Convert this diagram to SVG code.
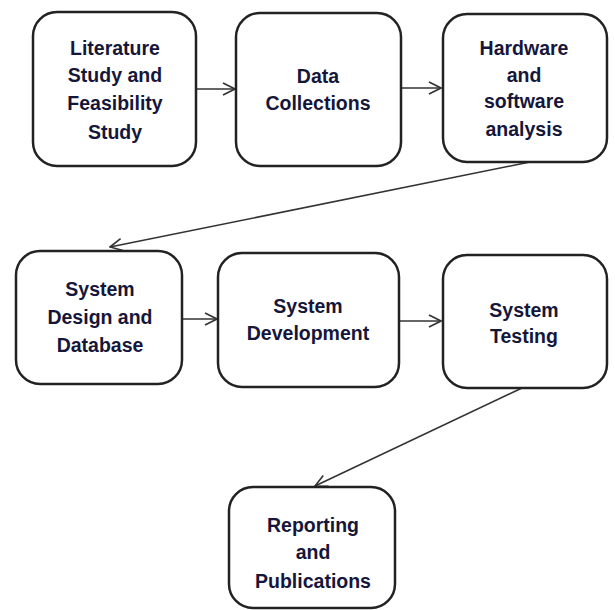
<svg xmlns="http://www.w3.org/2000/svg" width="615" height="610" viewBox="0 0 615 610">
<style>
.box{fill:#fff;stroke:#222;stroke-width:2.5}
.lbl{font-family:"Liberation Sans",Arial,sans-serif;font-weight:bold;font-size:19.5px;fill:#16163a;text-anchor:middle}
.conn{fill:none;stroke:#333;stroke-width:1.6}
</style>
<defs>
<marker id="arr" viewBox="0 0 14 14" refX="13" refY="7" markerWidth="14" markerHeight="14" markerUnits="userSpaceOnUse" orient="auto">
<path d="M1,1 L13,7 L1,13" fill="none" stroke="#333" stroke-width="1.6"/>
</marker>
</defs>
<rect width="615" height="610" fill="#fff"/>
<g id="connectors">
<line class="conn" x1="196" y1="89" x2="235" y2="89" marker-end="url(#arr)"/>
<line class="conn" x1="401" y1="88" x2="441" y2="88" marker-end="url(#arr)"/>
<line class="conn" x1="530" y1="162" x2="110" y2="247" marker-end="url(#arr)"/>
<line class="conn" x1="182" y1="319" x2="217" y2="319" marker-end="url(#arr)"/>
<line class="conn" x1="399" y1="321" x2="441" y2="321" marker-end="url(#arr)"/>
<line class="conn" x1="522" y1="388" x2="315" y2="486" marker-end="url(#arr)"/>
</g>
<g id="n1"><rect class="box" x="33" y="12" width="163" height="154" rx="24"/>
<text class="lbl" x="115" y="55">Literature</text><text class="lbl" x="115" y="82">Study and</text><text class="lbl" x="115" y="110">Feasibility</text><text class="lbl" x="115" y="139">Study</text></g>
<g id="n2"><rect class="box" x="236" y="13" width="165" height="153" rx="24"/>
<text class="lbl" x="318" y="83">Data</text><text class="lbl" x="318" y="110">Collections</text></g>
<g id="n3"><rect class="box" x="443" y="14" width="164" height="148" rx="24"/>
<text class="lbl" x="524" y="55">Hardware</text><text class="lbl" x="524" y="82">and</text><text class="lbl" x="524" y="108">software</text><text class="lbl" x="524" y="136">analysis</text></g>
<g id="n4"><rect class="box" x="16" y="251" width="166" height="133" rx="24"/>
<text class="lbl" x="100" y="296">System</text><text class="lbl" x="100" y="324">Design and</text><text class="lbl" x="100" y="352">Database</text></g>
<g id="n5"><rect class="box" x="218" y="253" width="181" height="134" rx="24"/>
<text class="lbl" x="308" y="313">System</text><text class="lbl" x="308" y="340">Development</text></g>
<g id="n6"><rect class="box" x="443" y="255" width="164" height="133" rx="24"/>
<text class="lbl" x="524" y="317">System</text><text class="lbl" x="524" y="343">Testing</text></g>
<g id="n7"><rect class="box" x="229" y="487" width="166" height="121" rx="24"/>
<text class="lbl" x="313" y="532">Reporting</text><text class="lbl" x="313" y="559">and</text><text class="lbl" x="313" y="588">Publications</text></g>
</svg>
